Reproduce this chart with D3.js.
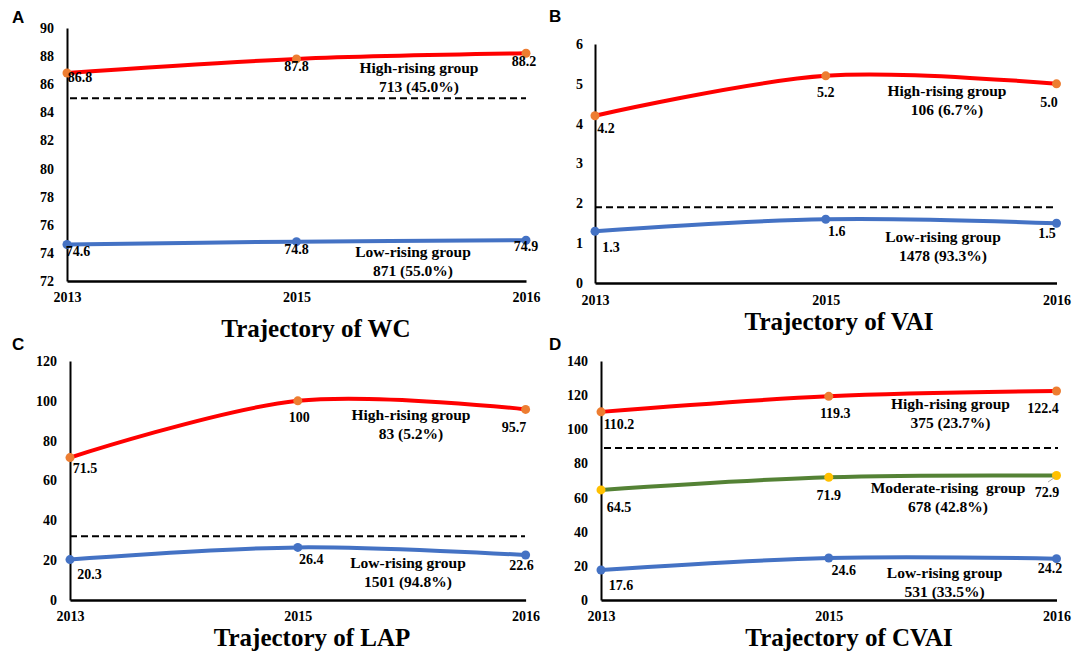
<!DOCTYPE html>
<html>
<head>
<meta charset="utf-8">
<script src="https://cdn.jsdelivr.net/npm/d3@7/dist/d3.min.js"></script>
<style>
  html, body { margin: 0; padding: 0; background: #ffffff; }
  svg { display: block; }
  text { font-family: "Liberation Serif", "Times New Roman", serif; font-weight: bold; fill: #000; }
</style>
</head>
<body>
<svg id="chart" width="1075" height="651"></svg>
<script>
// ---------------- data ----------------
const years = ["2013", "2015", "2016"];

const wcHigh = [86.8, 87.8, 88.2];
const wcLow = [74.6, 74.8, 74.9];
const wcTicks = [72, 74, 76, 78, 80, 82, 84, 86, 88, 90];
const wcCut = 85;
const wcGroups = [["High-rising group", "713 (45.0%)"], ["Low-rising group", "871 (55.0%)"]];

const vaiHigh = [4.2, 5.2, 5.0];
const vaiLow = [1.3, 1.6, 1.5];
const vaiTicks = [0, 1, 2, 3, 4, 5, 6];
const vaiCut = 1.9;
const vaiGroups = [["High-rising group", "106 (6.7%)"], ["Low-rising group", "1478 (93.3%)"]];

const lapHigh = [71.5, 100, 95.7];
const lapLow = [20.3, 26.4, 22.6];
const lapTicks = [0, 20, 40, 60, 80, 100, 120];
const lapCut = 32;
const lapGroups = [["High-rising group", "83 (5.2%)"], ["Low-rising group", "1501 (94.8%)"]];

const cvaiHigh = [110.2, 119.3, 122.4];
const cvaiMid = [64.5, 71.9, 72.9];
const cvaiLow = [17.6, 24.6, 24.2];
const cvaiTicks = [0, 20, 40, 60, 80, 100, 120, 140];
const cvaiCut = 89;
const cvaiGroups = [["High-rising group", "375 (23.7%)"], ["Moderate-rising  group", "678 (42.8%)"], ["Low-rising group", "531 (33.5%)"]];

const valueLabels = {
  wcHigh: ["86.8", "87.8", "88.2"], wcLow: ["74.6", "74.8", "74.9"],
  vaiHigh: ["4.2", "5.2", "5.0"], vaiLow: ["1.3", "1.6", "1.5"],
  lapHigh: ["71.5", "100", "95.7"], lapLow: ["20.3", "26.4", "22.6"],
  cvaiHigh: ["110.2", "119.3", "122.4"], cvaiMid: ["64.5", "71.9", "72.9"], cvaiLow: ["17.6", "24.6", "24.2"]
};

// ---------------- styles ----------------
const RED = "#FF0000", ORANGE = "#ED7D31", BLUE = "#4472C4", GREEN = "#548235", YELLOW = "#FFC000";

// ---------------- layout ----------------
const panels = [
  { letter: "A", lx: 12, ly: 23, x0: 67, x1: 526, yTop: 28, yBot: 281, domain: [72, 90], ticks: wcTicks, cut: wcCut,
    dash: [70, 526], xPad: 11, yPad: 13, title: "Trajectory of WC", tx: 316, ty: 337,
    series: [
      { values: wcHigh, labels: valueLabels.wcHigh, line: RED, marker: ORANGE, off: [[13, 4], [0, 7], [-2, 8]], group: wcGroups[0], gpos: [419, 68] },
      { values: wcLow, labels: valueLabels.wcLow, line: BLUE, marker: BLUE, off: [[11, 7], [0, 7], [0, 6]], group: wcGroups[1], gpos: [413, 252] }
    ] },
  { letter: "B", lx: 549, ly: 22, x0: 595, x1: 1056.5, yTop: 44, yBot: 283, domain: [0, 6], ticks: vaiTicks, cut: vaiCut,
    dash: [595, 1055], xPad: 12, yPad: 12, title: "Trajectory of VAI", tx: 839, ty: 330,
    series: [
      { values: vaiHigh, labels: valueLabels.vaiHigh, line: RED, marker: ORANGE, off: [[11, 12], [0, 16], [-7.5, 18]], group: vaiGroups[0], gpos: [947, 91] },
      { values: vaiLow, labels: valueLabels.vaiLow, line: BLUE, marker: BLUE, off: [[16, 16], [11, 12], [-9.5, 10]], group: vaiGroups[1], gpos: [943, 237] }
    ] },
  { letter: "C", lx: 12, ly: 350, x0: 70, x1: 525.6, yTop: 361, yBot: 600, domain: [0, 120], ticks: lapTicks, cut: lapCut,
    dash: [70, 525], xPad: 11, yPad: 13, title: "Trajectory of LAP", tx: 312, ty: 646,
    series: [
      { values: lapHigh, labels: valueLabels.lapHigh, line: RED, marker: ORANGE, off: [[15, 11], [1.5, 16], [-11.5, 18]], group: lapGroups[0], gpos: [411, 415] },
      { values: lapLow, labels: valueLabels.lapLow, line: BLUE, marker: BLUE, off: [[19.5, 15], [13.5, 12], [-4, 10]], group: lapGroups[1], gpos: [408, 563] }
    ] },
  { letter: "D", lx: 549, ly: 350, x0: 601, x1: 1056.5, yTop: 361, yBot: 600, domain: [0, 140], ticks: cvaiTicks, cut: cvaiCut,
    dash: [604, 1058], xPad: 11, yPad: 13, title: "Trajectory of CVAI", tx: 849, ty: 646,
    series: [
      { values: cvaiHigh, labels: valueLabels.cvaiHigh, line: RED, marker: ORANGE, off: [[18, 12], [6.5, 17], [-13.5, 17]], group: cvaiGroups[0], gpos: [950.5, 404] },
      { values: cvaiMid, labels: valueLabels.cvaiMid, line: GREEN, marker: YELLOW, off: [[18, 17], [0, 18], [-9.5, 17]], group: cvaiGroups[1], gpos: [948, 488], leader: true },
      { values: cvaiLow, labels: valueLabels.cvaiLow, line: BLUE, marker: BLUE, off: [[20, 15], [15, 12], [-6.5, 9]], group: cvaiGroups[2], gpos: [944.6, 573] }
    ] }
];

const svg = d3.select("#chart");

panels.forEach(p => {
  const g = svg.append("g");
  const x = d3.scalePoint().domain(years).range([p.x0, p.x1]);
  const y = d3.scaleLinear().domain(p.domain).range([p.yBot, p.yTop]);

  // panel letter
  svg.append("text").attr("x", p.lx).attr("y", p.ly).text(p.letter)
    .style("font-family", "'Liberation Sans', Arial, sans-serif").style("font-size", "17px").style("font-weight", "bold");

  // dashed cut-off line
  g.append("line")
    .attr("x1", p.dash[0]).attr("x2", p.dash[1])
    .attr("y1", y(p.cut)).attr("y2", y(p.cut))
    .attr("stroke", "#000").attr("stroke-width", 2).attr("stroke-dasharray", "7,4");

  // y axis
  const ya = g.append("g").attr("transform", `translate(${p.x0},0)`)
    .call(d3.axisLeft(y).tickValues(p.ticks).tickFormat(d3.format("d")).tickSize(0).tickSizeOuter(0).tickPadding(p.yPad));
  ya.select(".domain").attr("stroke", "#000").attr("stroke-width", 2);
  ya.selectAll("text").attr("font-family", null).attr("font-size", null)
    .style("font-family", "'Liberation Serif', serif").style("font-size", "14px").style("font-weight", "bold");

  // x axis
  const xa = g.append("g").attr("transform", `translate(0,${p.yBot})`)
    .call(d3.axisBottom(x).tickSize(0).tickSizeOuter(0).tickPadding(p.xPad));
  xa.select(".domain").attr("stroke", "#000").attr("stroke-width", 2.5);
  xa.selectAll("text").attr("font-family", null).attr("font-size", null)
    .style("font-family", "'Liberation Serif', serif").style("font-size", "14px").style("font-weight", "bold");

  // series
  const lineGen = d3.line()
    .x((d, i) => x(years[i]))
    .y(d => y(d))
    .curve(d3.curveCatmullRom.alpha(0.5));

  p.series.forEach(s => {
    g.append("path").datum(s.values)
      .attr("d", lineGen)
      .attr("fill", "none").attr("stroke", s.line).attr("stroke-width", 4).attr("stroke-linecap", "round");
    g.selectAll(null).data(s.values).enter().append("circle")
      .attr("cx", (d, i) => x(years[i])).attr("cy", d => y(d))
      .attr("r", 4.5).attr("fill", s.marker);
    g.selectAll(null).data(s.values).enter().append("text")
      .attr("x", (d, i) => x(years[i]) + s.off[i][0])
      .attr("y", (d, i) => y(d) + s.off[i][1])
      .attr("dy", "0.35em").attr("text-anchor", "middle")
      .style("font-size", "14px")
      .text((d, i) => s.labels[i]);
    if (s.leader) {
      const lx = x(years[2]), ly = y(s.values[2]);
      g.append("line").attr("x1", lx - 8.5).attr("y1", ly + 6.5).attr("x2", lx - 2).attr("y2", ly + 2)
        .attr("stroke", "#A6A6A6").attr("stroke-width", 1);
    }
    g.selectAll(null).data(s.group).enter().append("text")
      .attr("x", s.gpos[0]).attr("y", (d, i) => s.gpos[1] + i * 19)
      .attr("dy", "0.35em").attr("text-anchor", "middle")
      .style("font-size", "15.5px").style("white-space", "pre")
      .text(d => d);
  });

  // title
  svg.append("text").attr("x", p.tx).attr("y", p.ty).attr("text-anchor", "middle")
    .style("font-size", "25px").text(p.title);
});
</script>
</body>
</html>
